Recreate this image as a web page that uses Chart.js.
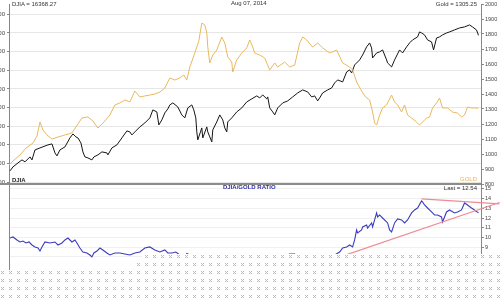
<!DOCTYPE html>
<html><head><meta charset="utf-8">
<script src="https://cdn.jsdelivr.net/npm/chart.js@4.4.0/dist/chart.umd.min.js"></script>
<style>
html,body{margin:0;padding:0;width:500px;height:300px;overflow:hidden;background:#fff;position:relative;font-family:"Liberation Sans",Arial,sans-serif;}
.wrap{position:absolute;left:-26px;width:526px;}
#topWrap{top:0;height:188px;}
#botWrap{top:184px;height:116px;}
.t{position:absolute;font-size:6px;line-height:7px;white-space:nowrap;color:#333;}
#sep{position:absolute;left:0;top:183px;width:481px;height:2px;background:#8c8c8c;}
#dots{position:absolute;left:0;top:250px;width:500px;height:50px;background-color:#fff;
background-image:url("data:image/svg+xml,%3Csvg xmlns='http://www.w3.org/2000/svg' width='8' height='8' shape-rendering='crispEdges'%3E%3Cg fill='%23b8b8b8'%3E%3Crect x='0' y='0' width='1' height='1'/%3E%3Crect x='2' y='0' width='1' height='1'/%3E%3Crect x='1' y='1' width='1' height='1'/%3E%3Crect x='0' y='2' width='1' height='1'/%3E%3Crect x='2' y='2' width='1' height='1'/%3E%3C/g%3E%3C/svg%3E");
background-size:8px 8px;background-position:1px 5px;
clip-path:polygon(0px 20px,133px 20px,133px 12px,142px 12px,142px 4px,500px 4px,500px 50px,0px 50px);}
</style></head>
<body>
<div class="wrap" id="topWrap"><canvas id="top" width="526" height="188"></canvas></div>
<div class="wrap" id="botWrap"><canvas id="bot" width="526" height="116"></canvas></div>
<div id="sep"></div>
<div class="t" id="tDjia" style="left:12px;top:1px;"></div>
<div class="t" style="left:231px;top:0px;">Aug 07, 2014</div>
<div class="t" id="tGold" style="right:23px;top:1px;"></div>
<div class="t" style="left:12px;top:177px;color:#222;font-weight:bold;">DJIA</div>
<div class="t" style="right:23px;top:176px;color:#e8b450;">GOLD</div>
<div class="t" style="left:223px;top:184px;color:#2c2ca8;font-weight:bold;">DJIA/GOLD RATIO</div>
<div class="t" id="tLast" style="right:23px;top:185px;"></div>
<div id="dots"></div>
<script>
// x values: days since 2 Jun 2009
const goldDays = [0,20,44,68,96,112,124,136,152,172,196,224,252,276,292,316,336,356,380,404,424,444,464,484,504,524,544,564,584,604,624,644,664,684,700,712,724,744,760,772,784,792,796,804,816,832,852,864,876,892,896,912,932,952,964,976,984,1004,1024,1044,1064,1076,1104,1124,1144,1164,1176,1192,1216,1236,1256,1284,1312,1336,1364,1376,1392,1412,1428,1444,1456,1464,1472,1484,1496,1512,1532,1544,1556,1572,1584,1596,1612,1632,1644,1656,1672,1684,1696,1712,1724,1736,1756,1776,1796,1812,1824,1836,1852,1864,1880];
const goldVals = [927,960,993,1040,1073,1120,1213,1160,1127,1100,1113,1127,1140,1200,1240,1247,1220,1173,1213,1260,1327,1340,1360,1347,1420,1380,1387,1393,1400,1413,1440,1507,1493,1507,1527,1493,1580,1673,1753,1873,1860,1807,1713,1607,1660,1693,1780,1740,1647,1613,1547,1627,1673,1707,1760,1713,1673,1660,1640,1560,1607,1580,1613,1580,1593,1740,1780,1760,1713,1740,1707,1673,1693,1607,1580,1560,1480,1420,1380,1360,1280,1207,1193,1260,1307,1327,1393,1347,1327,1280,1327,1260,1240,1213,1193,1213,1240,1247,1307,1340,1373,1307,1307,1280,1273,1247,1260,1313,1307,1307,1305.25];

const djiaDays = [4,16,36,52,64,84,92,104,124,156,172,184,192,204,224,244,256,268,276,288,296,304,316,332,340,356,372,392,396,412,432,452,472,484,492,504,524,544,564,576,592,600,612,624,636,644,656,676,692,704,716,732,740,748,752,756,772,776,792,796,804,812,816,832,844,856,864,872,876,892,912,932,952,972,992,1004,1016,1032,1036,1044,1056,1064,1076,1096,1116,1136,1156,1176,1196,1212,1224,1236,1244,1256,1276,1292,1304,1316,1336,1352,1364,1372,1384,1404,1416,1432,1444,1452,1456,1472,1484,1496,1512,1516,1532,1544,1564,1576,1592,1604,1616,1636,1644,1652,1664,1676,1692,1700,1712,1724,1736,1752,1764,1784,1804,1824,1844,1856,1872,1880];
const djiaVals = [9103,9317,9531,9692,9585,9853,9692,10228,10335,10496,10550,10067,9907,10228,10389,10871,11085,10925,10871,10603,10121,9853,9799,9692,9853,9960,10121,10067,9960,10335,10496,10871,11246,11193,11032,11193,11461,11675,11943,12372,12265,11568,11836,12211,12426,12640,12747,12533,12104,11943,12479,12640,12372,11943,11193,10764,11407,10871,11461,11193,10925,10657,11300,11729,12104,11836,11407,11193,11729,11943,12265,12479,12801,12962,13123,13015,13176,12962,13069,12479,12265,12104,12479,12747,12855,13069,13283,13444,13337,13069,13123,12855,13015,13283,13444,13551,13819,13980,13873,14409,14516,14355,14784,15052,15320,15749,15963,15695,15159,15427,15481,15588,15052,14891,14677,15052,15588,15427,15749,15963,16124,16285,16553,16499,16392,16124,16017,15588,16231,16285,16392,16499,16553,16660,16767,16821,16928,16821,16660,16368.27];

const ratioDays = [4,16,32,44,56,68,80,92,104,116,124,132,144,164,184,196,212,224,236,252,264,272,284,296,312,324,332,340,352,364,376,392,404,424,444,464,484,504,524,544,564,584,604,624,636,652,668,684,696,704,712,724,736,756,772,784,804,812,852,896,932,964,1004,1024,1032,1044,1056,1084,1112,1124,1144,1156,1176,1204,1236,1264,1284,1304,1324,1336,1352,1364,1376,1384,1392,1396,1412,1416,1432,1436,1452,1456,1472,1476,1484,1496,1512,1516,1524,1532,1544,1556,1572,1584,1596,1612,1624,1636,1652,1656,1664,1676,1692,1704,1716,1732,1736,1752,1764,1784,1796,1812,1824,1836,1852,1864,1880];
const ratioVals = [9.95,10.06,9.75,9.54,9.64,9.44,9.54,9.23,9.03,8.92,8.61,9.03,9.54,9.44,9.54,9.23,9.44,9.75,9.95,9.54,9.75,9.44,8.92,8.51,8.41,8.20,8.00,8.41,8.61,8.92,8.72,8.41,8.20,8.41,8.41,8.31,8.20,8.41,8.51,8.92,9.03,8.72,8.51,8.72,8.41,8.41,8.51,8.20,8.00,7.80,8.35,8.20,7.70,6.14,6.09,5.90,6.80,6.50,6.63,7.72,7.46,7.33,7.84,7.90,8.20,8.10,7.80,7.90,8.20,8.31,8.31,8.00,7.55,7.60,7.39,7.80,8.10,8.20,8.51,8.92,9.03,9.23,9.03,9.75,10.78,10.47,10.78,11.09,11.29,10.98,11.50,11.09,12.53,12.12,12.32,12.01,11.60,11.50,10.78,10.57,11.50,11.91,11.81,11.50,11.81,12.53,12.84,13.04,13.76,13.66,13.35,13.04,12.63,12.32,12.32,12.12,11.60,12.63,12.84,12.53,12.63,12.84,13.56,13.35,13.04,12.84,12.54];

const trendLowDays = [1244,1964];
const trendLowVals = [7.29,13.61];
const trendHighDays = [1652,1964];
const trendHighVals = [13.97,13.46];

const djiaTicks = [8500,9000,9500,10000,10500,11000,11500,12000,12500,13000,13500,14000,14500,15000,15500,16000,16500,17000,17500,18000];
const goldTicks = [800,900,1000,1100,1200,1300,1400,1500,1600,1700,1800,1900,2000];
const ratioTicks = [8,9,10,11,12,13,14,15];

const pts = (xs, ys) => xs.map((x, i) => ({x: x, y: ys[i]}));
document.getElementById('tDjia').textContent = 'DJIA = ' + djiaVals[djiaVals.length-1].toFixed(2);
document.getElementById('tGold').textContent = 'Gold = ' + goldVals[goldVals.length-1].toFixed(2);
document.getElementById('tLast').textContent = 'Last = ' + ratioVals[ratioVals.length-1].toFixed(2);

Chart.defaults.font.family = '"Liberation Sans", Arial, sans-serif';
const setTicks = arr => s => { s.ticks = arr.map(v => ({value: v})); };
const fitW = w => s => { s.width = w; s.paddingTop = 0; s.paddingBottom = 0; };
const common = {
  responsive: false, animation: false, devicePixelRatio: 1,
  plugins: {legend: {display: false}, tooltip: {enabled: false}},
  elements: {point: {radius: 0}, line: {tension: 0}}
};

new Chart(document.getElementById('top'), {
  type: 'line',
  data: {datasets: [
    {data: pts(goldDays, goldVals), yAxisID: 'yG', borderColor: '#e9b95c', borderWidth: 1},
    {data: pts(djiaDays, djiaVals), yAxisID: 'yD', borderColor: '#151515', borderWidth: 1}
  ]},
  options: Object.assign({}, common, {
    layout: {padding: {top: 4, bottom: 4, left: 0, right: 0}},
    scales: {
      x: {type: 'linear', display: false, min: 0, max: 1890},
      yD: {position: 'left', min: 8400, max: 18050, afterBuildTicks: setTicks(djiaTicks), afterFit: fitW(35),
        ticks: {font: {size: 6}, color: '#444', padding: 2, callback: v => String(v)},
        grid: {color: '#e6e6e6', tickLength: 2, tickColor: '#888'}, border: {color: '#888'}},
      yG: {position: 'right', min: 800, max: 2000, afterBuildTicks: setTicks(goldTicks), afterFit: fitW(19),
        ticks: {font: {size: 5.5}, color: '#444', padding: 1, callback: v => String(v)},
        grid: {drawOnChartArea: false, tickLength: 3, tickColor: '#888'}, border: {color: '#888'}}
    }
  })
});

new Chart(document.getElementById('bot'), {
  type: 'line',
  data: {datasets: [
    {data: pts(trendLowDays, trendLowVals), yAxisID: 'yR', borderColor: '#ee8c96', borderWidth: 1.2, clip: false},
    {data: pts(trendHighDays, trendHighVals), yAxisID: 'yR', borderColor: '#ee8c96', borderWidth: 1.2, clip: false},
    {data: pts(ratioDays, ratioVals), yAxisID: 'yR', borderColor: '#3c3cbc', borderWidth: 1.1}
  ]},
  options: Object.assign({}, common, {
    layout: {padding: {top: 0, bottom: 28, left: 0, right: 0}},
    scales: {
      x: {type: 'linear', display: false, min: 0, max: 1890},
      yL: {position: 'left', min: 6.45, max: 15.51, afterFit: fitW(35),
        ticks: {display: false}, grid: {display: false}, border: {display: true, color: '#888'}},
      yR: {position: 'right', min: 6.45, max: 15.51, afterBuildTicks: setTicks(ratioTicks), afterFit: fitW(19),
        ticks: {font: {size: 5.5}, color: '#444', padding: 1},
        grid: {color: '#f0f0f0', tickLength: 3, tickColor: '#888'}, border: {color: '#888'}}
    }
  })
});
</script>
</body></html>
